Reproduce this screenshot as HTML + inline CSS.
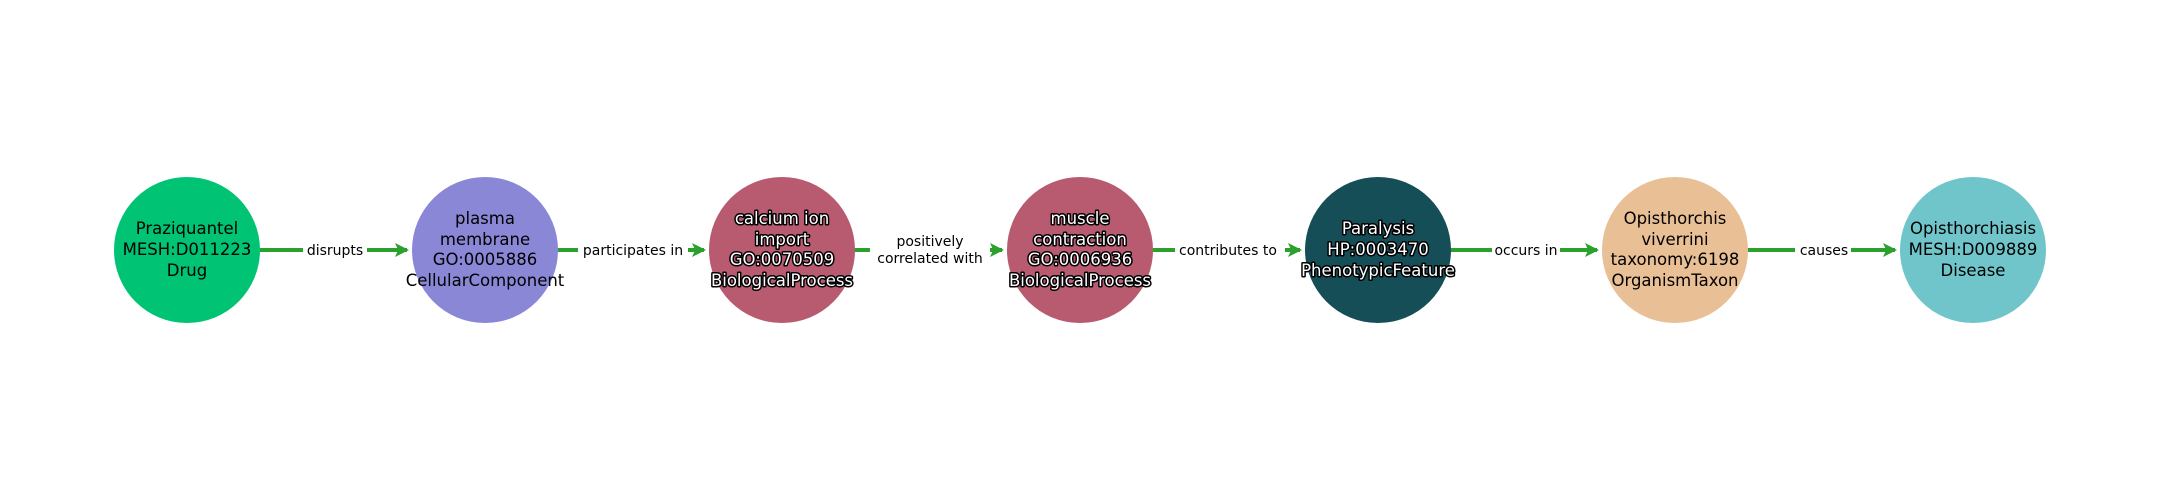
<!DOCTYPE html>
<html><head><meta charset="utf-8"><style>
html,body{margin:0;padding:0;background:#fff;}
svg{display:block;}
text{font-family:"DejaVu Sans","Liberation Sans",sans-serif;}
.n{font-size:16.5px;text-anchor:middle;}
.w{fill:#fff;stroke:#000;stroke-width:3px;paint-order:stroke;stroke-linejoin:round;}
.l{font-size:14px;text-anchor:middle;fill:#000;}
</style></head><body>
<svg width="2160" height="500" viewBox="0 0 2160 500">
<defs><marker id="a" markerWidth="3.5" markerHeight="3.5" refX="3" refY="1.75" orient="auto" markerUnits="strokeWidth"><path d="M0,0 L3.5,1.75 L0,3.5 L0.8,1.75 Z" fill="#2ca02c"/></marker></defs>
<g stroke="#2ca02c" stroke-width="4" fill="none">
<line x1="260" y1="250" x2="407" y2="250" marker-end="url(#a)"/>
<line x1="558" y1="250" x2="704" y2="250" marker-end="url(#a)"/>
<line x1="855" y1="250" x2="1002" y2="250" marker-end="url(#a)"/>
<line x1="1153" y1="250" x2="1300" y2="250" marker-end="url(#a)"/>
<line x1="1451" y1="250" x2="1597" y2="250" marker-end="url(#a)"/>
<line x1="1748" y1="250" x2="1895" y2="250" marker-end="url(#a)"/>
</g>
<g fill="#fff">
<rect x="303" y="240" width="64" height="20"/>
<rect x="578" y="240" width="110" height="20"/>
<rect x="870" y="228" width="120" height="42"/>
<rect x="1175" y="240" width="110" height="20"/>
<rect x="1492" y="240" width="68" height="20"/>
<rect x="1795" y="240" width="56" height="20"/>
</g>
<text class="l" x="335" y="255">disrupts</text>
<text class="l" x="633" y="255">participates in</text>
<text class="l" x="930" y="246">positively</text>
<text class="l" x="930" y="263">correlated with</text>
<text class="l" x="1228" y="255">contributes to</text>
<text class="l" x="1526" y="255">occurs in</text>
<text class="l" x="1824" y="255">causes</text>
<circle cx="187" cy="250" r="73" fill="#00c373"/>
<circle cx="485" cy="250" r="73" fill="#8b87d7"/>
<circle cx="782" cy="250" r="73" fill="#b85a70"/>
<circle cx="1080" cy="250" r="73" fill="#b85a70"/>
<circle cx="1378" cy="250" r="73" fill="#154e57"/>
<circle cx="1675" cy="250" r="73" fill="#e9bf95"/>
<circle cx="1973" cy="250" r="73" fill="#70c5cb"/>
<text class="n" x="187" y="234">Praziquantel</text><text class="n" x="187" y="255">MESH:D011223</text><text class="n" x="187" y="276">Drug</text>
<text class="n" x="485" y="224">plasma</text><text class="n" x="485" y="245">membrane</text><text class="n" x="485" y="265">GO:0005886</text><text class="n" x="485" y="286">CellularComponent</text>
<g class="n w"><text x="782" y="224">calcium ion</text><text x="782" y="245">import</text><text x="782" y="265">GO:0070509</text><text x="782" y="286">BiologicalProcess</text></g>
<g class="n w"><text x="1080" y="224">muscle</text><text x="1080" y="245">contraction</text><text x="1080" y="265">GO:0006936</text><text x="1080" y="286">BiologicalProcess</text></g>
<g class="n w"><text x="1378" y="234">Paralysis</text><text x="1378" y="255">HP:0003470</text><text x="1378" y="276">PhenotypicFeature</text></g>
<text class="n" x="1675" y="224">Opisthorchis</text><text class="n" x="1675" y="245">viverrini</text><text class="n" x="1675" y="265">taxonomy:6198</text><text class="n" x="1675" y="286">OrganismTaxon</text>
<text class="n" x="1973" y="234">Opisthorchiasis</text><text class="n" x="1973" y="255">MESH:D009889</text><text class="n" x="1973" y="276">Disease</text>
</svg>
</body></html>
